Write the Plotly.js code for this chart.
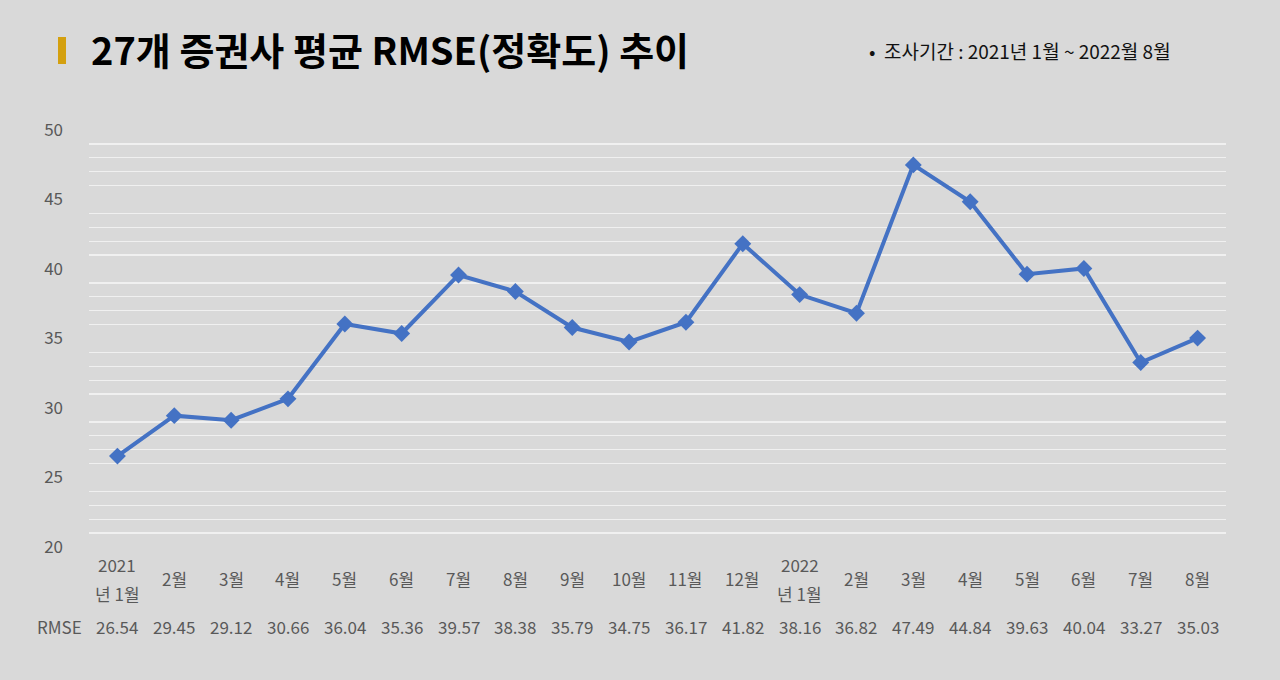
<!DOCTYPE html>
<html>
<head>
<meta charset="utf-8">
<script src="https://cdn.plot.ly/plotly-3.0.1.min.js"></script>
<style>
  body { margin: 0; background: #d9d9d9; }
  #chart { width: 1280px; height: 680px; }
</style>
</head>
<body>
<div id="chart"></div>
<script>
var months = ['2021<br>년 1월', '2월', '3월', '4월', '5월', '6월', '7월', '8월', '9월', '10월',
              '11월', '12월', '2022<br>년 1월', '2월', '3월', '4월', '5월', '6월', '7월', '8월'];
var rmse = [26.54, 29.45, 29.12, 30.66, 36.04, 35.36, 39.57, 38.38, 35.79, 34.75,
            36.17, 41.82, 38.16, 36.82, 47.49, 44.84, 39.63, 40.04, 33.27, 35.03];

var font = '"Noto Sans CJK KR", "Noto Sans", sans-serif';
var grey = '#595959';

// category index used as x so duplicate month names stay separate
var xs = rmse.map(function (v, i) { return i; });

var trace = {
    x: xs,
    y: rmse,
    type: 'scatter',
    mode: 'lines+markers',
    line: { color: '#4472c4', width: 4 },
    marker: { symbol: 'diamond', size: 13, color: '#4472c4' },
    hoverinfo: 'skip'
};

// plot area in pixels: x 89..1226, y 130..547
function py(pix) { return (547 - pix) / 417; }
function px(pix) { return (pix - 89) / 1137; }

var annotations = [];
months.forEach(function (m, i) {
    var parts = m.split('<br>');
    if (parts.length === 2) {
        annotations.push({ x: i, y: py(564), text: parts[0] });
        annotations.push({ x: i, y: py(593), text: parts[1] });
    } else {
        annotations.push({ x: i, y: py(578), text: m });
    }
});
rmse.forEach(function (v, i) {
    annotations.push({ x: i, y: py(626), text: v.toFixed(2) });
});
annotations = annotations.map(function (a) {
    a.xref = 'x'; a.yref = 'paper'; a.showarrow = false;
    a.xanchor = 'center'; a.yanchor = 'middle';
    a.font = { family: font, size: 17, color: grey };
    return a;
});
annotations.push({
    xref: 'paper', yref: 'paper', x: px(59), y: py(626), text: 'RMSE',
    showarrow: false, xanchor: 'center', yanchor: 'middle',
    font: { family: font, size: 17, color: grey }
});
annotations.push({
    xref: 'paper', yref: 'paper', x: px(867), y: py(50),
    text: '•  조사기간 : 2021년 1월 ~ 2022월 8월',
    showarrow: false, xanchor: 'left', yanchor: 'middle',
    font: { family: font, size: 19, color: '#111111' }
});

var layout = {
    width: 1280,
    height: 680,
    paper_bgcolor: '#d9d9d9',
    plot_bgcolor: '#d9d9d9',
    showlegend: false,
    margin: { l: 89, r: 54, t: 130, b: 133, pad: 0 },
    title: {
        text: '<b>27개 증권사 평균 RMSE(정확도) 추이</b>',
        xref: 'container', yref: 'container',
        x: 91 / 1280, xanchor: 'left',
        y: 1 - 52 / 680, yanchor: 'middle',
        font: { family: font, size: 38, color: '#000000' }
    },
    xaxis: {
        range: [-0.5, rmse.length - 0.5],
        showticklabels: false,
        showgrid: false,
        zeroline: false,
        showline: false,
        fixedrange: true
    },
    yaxis: {
        range: [20, 50],
        dtick: 5,
        showgrid: false,
        zeroline: false,
        showline: false,
        ticks: '',
        ticklabelstandoff: 25,
        tickfont: { family: font, size: 17, color: grey },
        minor: { dtick: 1, showgrid: true, gridcolor: '#f0f0f0', gridwidth: 1.3 }
    },
    shapes: [{
        type: 'rect', xref: 'paper', yref: 'paper',
        x0: px(58), x1: px(66), y0: py(37), y1: py(64),
        fillcolor: '#d4a00f', line: { width: 0 }
    }],
    annotations: annotations
};

var config = { responsive: false, displayModeBar: false, staticPlot: true };

Plotly.newPlot('chart', [trace], layout, config);
</script>
</body>
</html>
